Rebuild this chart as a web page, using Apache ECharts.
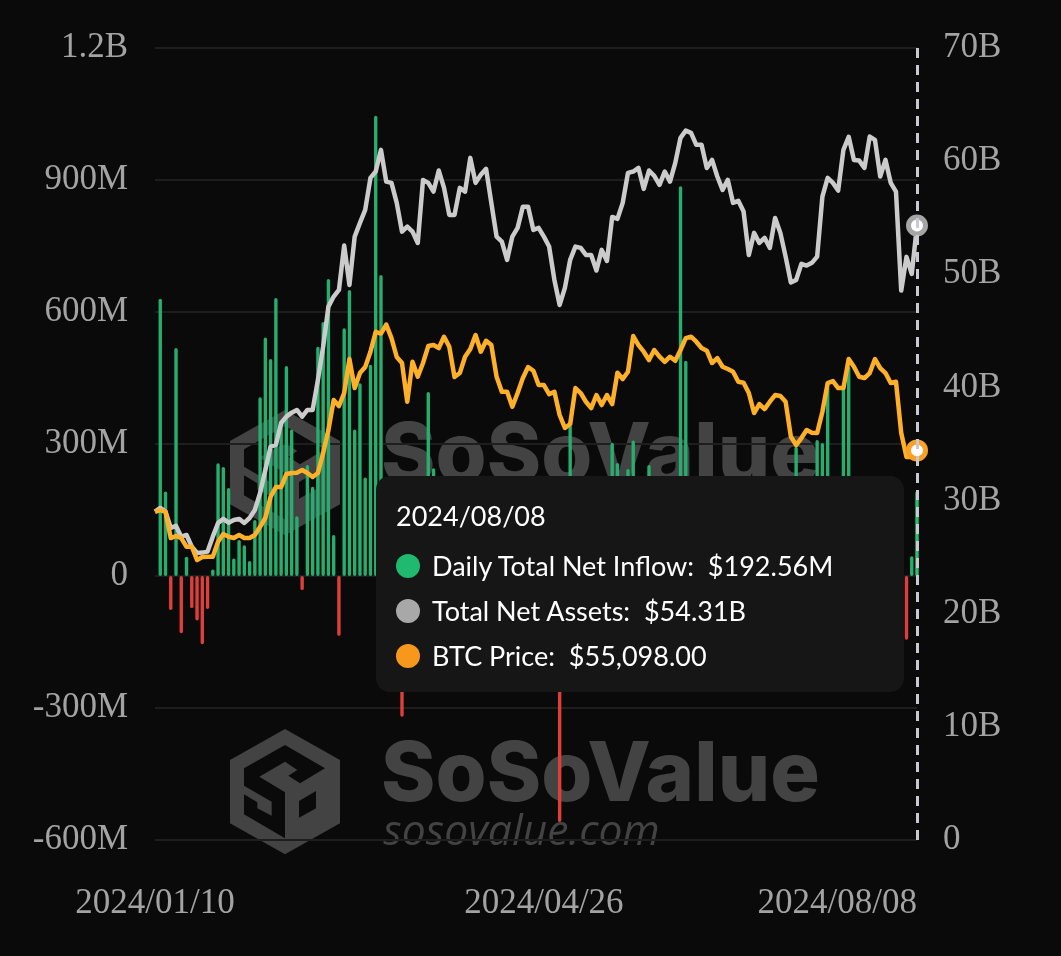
<!DOCTYPE html>
<html>
<head>
<meta charset="utf-8">
<style>
html,body{margin:0;padding:0;background:#0a0a0a;}
#main{width:1061px;height:956px;}
</style>
<script src="https://cdn.jsdelivr.net/npm/echarts@6/dist/echarts.min.js"></script>
</head>
<body>
<div id="main"></div>
<script>
const tradingDays = [
  ['01',[10,11,12,16,17,18,19,22,23,24,25,26,29,30,31]],
  ['02',[1,2,5,6,7,8,9,12,13,14,15,16,20,21,22,23,26,27,28,29]],
  ['03',[1,4,5,6,7,8,11,12,13,14,15,18,19,20,21,22,25,26,27,28]],
  ['04',[1,2,3,4,5,8,9,10,11,12,15,16,17,18,19,22,23,24,25,26,29,30]],
  ['05',[1,2,3,6,7,8,9,10,13,14,15,16,17,20,21,22,23,24,28,29,30,31]],
  ['06',[3,4,5,6,7,10,11,12,13,14,17,18,20,21,24,25,26,27,28]],
  ['07',[1,2,3,5,8,9,10,11,12,15,16,17,18,19,22,23,24,25,26,29,30,31]],
  ['08',[1,2,5,6,7,8]]
];
const categories = tradingDays.flatMap(m => m[1].map(d => `2024/${m[0]}/${String(d).padStart(2,'0')}`));
const shownDates = ['2024/01/10','2024/04/26','2024/08/08'];

// millions of USD
const netInflow = [0,630,192,-77,518,-130,44,-73,-101,-155,-75,15,256,248,200,40,82,70,34,127,
  406,542,493,632,345,477,333,136,-32,252,203,521,577,675,93,-136,563,650,333,438,
  224,480,1046,684,132,-139,-154,-320,-261,-94,-84,15,418,245,179,-86,40,113,-95,-124,
  -223,-37,-18,59,204,-37,-58,-94,-166,-57,60,31,-5,-218,-120,60,-162,-559,-38,343,
  217,-15,-11,-84,-30,95,66,303,257,222,243,308,88,-5,252,28,-105,48,-65,15,
  886,489,100,14,-64,-200,100,-226,-105,-140,-152,-226,-105,-175,-174,31,73,-25,129,27,
  -13,-65,294,143,-146,143,309,302,430,186,216,430,476,-78,31,66,124,200,-158,-81,
  -18,-80,-237,-145,45,192.56];
// billions of USD
const totalNetAssets = [29.02,29.35,29.02,27.58,27.76,26.81,26.96,25.93,25.37,25.40,25.49,26.81,28.02,28.38,28.05,28.29,28.38,28.02,28.46,29.17,
  30.67,32.71,34.77,34.92,36.86,37.42,37.77,38.01,37.42,38.01,38.01,40.66,43.61,47.14,48.03,48.62,52.54,49.06,53.33,54.54,
  55.69,58.52,59.08,61.00,58.19,58.08,56.31,53.77,54.22,53.77,52.77,58.34,58.08,57.31,59.17,57.64,55.25,55.25,57.64,57.31,
  60.29,58.08,58.79,59.32,56.31,53.33,52.89,51.27,53.33,54.10,55.98,55.96,53.92,54.10,53.33,52.45,49.50,47.29,48.80,51.27,
  52.45,52.33,51.71,51.71,50.33,52.16,51.18,55.07,54.90,56.31,58.96,59.08,59.40,57.55,59.17,58.70,57.90,59.08,58.19,59.85,
  62.06,62.70,62.50,61.44,61.44,59.40,60.11,58.64,57.46,58.34,56.31,56.49,55.54,51.71,53.66,52.77,53.22,52.33,54.98,53.66,
  51.56,49.27,49.50,50.92,50.77,51.01,51.56,56.87,58.52,58.08,57.40,61.00,62.15,60.11,60.05,59.40,62.17,61.88,58.64,60.11,
  58.08,57.31,48.56,51.54,50.03,54.31];
const btcPrice = [46420,46660,46420,42700,42990,42700,41470,41470,39590,40020,40060,40060,42180,43270,42890,42700,43130,42700,42700,43130,
  44300,45530,48540,49910,49910,51750,51890,51940,52320,51890,51330,51890,54720,57970,62220,61370,63210,68010,63910,66030,
  66880,69050,71870,71620,72890,70980,68300,67450,61980,67630,65510,67450,69850,69990,69570,71170,69750,65470,66030,68340,
  69430,71410,69050,70600,69990,65510,63390,63390,61270,63210,65330,66880,66360,64340,64340,63060,63390,60100,58260,58820,
  63910,63210,61980,61080,62920,61510,62920,61650,66080,65190,66220,71270,69990,69050,67870,69290,68340,67630,68340,67770,
  69290,70980,71170,70460,69570,69190,67450,68150,66920,66600,66220,64800,64660,63210,60380,61650,60940,61980,62920,62780,
  61980,57030,55850,56840,57970,57590,57550,60560,64620,64900,63910,63910,68010,66920,65510,65330,66030,68010,66740,66030,
  64620,64800,57550,54160,54160,55098];

const inflowTicks = ['-600M','-300M','0','300M','600M','900M','1.2B'];
const assetTicks = ['0','10B','20B','30B','40B','50B','60B','70B'];

const labelColor = '#a3a3a3';
const labelFont = '"Liberation Serif"';
const green = '#27ad6d', red = '#de3f3a', grey = '#b9b9b9', orange = '#f9a026';
const markColor = '#434343', bg = '#0a0a0a';

// watermark, coords are in 3x units so the group is scaled down
const watermark = (x, y) => ({
  type: 'group', x: x, y: y, z: -1, silent: true, scaleX: 1/3, scaleY: 1/3,
  children: [
    {type:'polygon', z:-1, shape:{points:[[195,42],[360,135],[360,325],[195,418],[30,325],[30,135]]}, style:{fill:markColor}},
    {type:'polygon', z:-1, zlevel:0, shape:{points:[[72,160],[195,90],[315,160],[240,205],[205,182],[232,165],[195,140],[118,185],[195,232],[195,370],[72,298],[72,238],[112,262],[112,280],[155,302],[155,260],[72,212]]}, style:{fill:bg}},
    {type:'polygon', z:-1, shape:{points:[[237,258],[288,228],[288,280],[237,308]]}, style:{fill:bg}},
    {type:'text', z:-1, x:483, y:60, style:{text:'SoSoValue', fill:markColor, font:'800 248px Inter', textBaseline:'top'}, scaleX:1},
    {type:'text', z:-1, x:490, y:290, style:{text:'sosovalue.com', fill:markColor, font:'italic 400 128px "Open Sans"', textBaseline:'top'}}
  ]
});

const tooltipFormatter = (params) => {
  const i = params[0].dataIndex;
  const row = (color, name, val) => `<div style="display:flex;align-items:center;height:45px;">
    <span style="display:inline-block;width:24px;height:24px;border-radius:50%;background:${color};margin-right:12px;"></span>
    <span>${name}:&nbsp;&nbsp;${val}</span></div>`;
  return `<div style="height:36px;line-height:36px;margin-bottom:9px;">${categories[i]}</div>`
    + row('#1fb96f','Daily Total Net Inflow',`$${netInflow[i]}M`)
    + row('#a8a8a8','Total Net Assets',`$${totalNetAssets[i]}B`)
    + row('#f7981d','BTC Price',`$${btcPrice[i].toLocaleString('en-US',{minimumFractionDigits:2})}`);
};

const chart = echarts.init(document.getElementById('main'));
chart.setOption({
  animation: false,
  backgroundColor: bg,
  grid: {left: 155, right: 144, top: 48, bottom: 116},
  graphic: [watermark(220, 396), watermark(220, 715)],
  tooltip: {
    trigger: 'axis',
    alwaysShowContent: true,
    position: [376, 476],
    padding: [22, 20],
    backgroundColor: '#161616',
    borderWidth: 0,
    extraCssText: 'width:528px;height:216px;box-sizing:border-box;border-radius:14px;box-shadow:none;',
    textStyle: {color: '#fff', fontFamily: 'Lato', fontSize: 27},
    axisPointer: {type: 'line', z: 5, lineStyle: {color: '#c9c9d2', width: 3, type: [10, 7]}},
    formatter: tooltipFormatter
  },
  xAxis: {
    type: 'category',
    data: categories,
    boundaryGap: false,
    axisLine: {show: false},
    axisTick: {show: false},
    axisLabel: {
      interval: (i, v) => shownDates.includes(v),
      alignMaxLabel: 'right',
      hideOverlap: false,
      margin: 46,
      color: labelColor,
      fontFamily: labelFont,
      fontSize: 35
    }
  },
  yAxis: [
    {
      type: 'value', min: -600, max: 1200, interval: 300,
      axisLine: {show: false}, axisTick: {show: false},
      splitLine: {lineStyle: {color: '#1e1e1e', width: 2}},
      axisLabel: {
        formatter: v => inflowTicks[(v + 600) / 300],
        margin: 27, color: labelColor, fontFamily: labelFont, fontSize: 35
      }
    },
    {
      type: 'value', min: 0, max: 70, interval: 10, position: 'right',
      axisLine: {show: false}, axisTick: {show: false}, splitLine: {show: false},
      axisLabel: {
        formatter: v => assetTicks[v / 10],
        margin: 26, color: labelColor, fontFamily: labelFont, fontSize: 35
      }
    },
    {type: 'value', min: 0, max: 112000, show: false}
  ],
  series: [
    {
      name: 'Daily Total Net Inflow', type: 'bar', yAxisIndex: 0, data: netInflow,
      barWidth: 3.4,
      itemStyle: {borderRadius: 2, color: p => (p.value >= 0 ? green : red)}
    },
    {
      name: 'Total Net Assets', type: 'line', yAxisIndex: 1, data: totalNetAssets,
      showSymbol: false, symbol: 'circle', symbolSize: 17,
      lineStyle: {color: grey, width: 4.5, join: 'round'},
      itemStyle: {color: '#fff', borderColor: '#a5a5a5', borderWidth: 5},
      emphasis: {scale: false, lineStyle: {width: 4.5}}
    },
    {
      name: 'BTC Price', type: 'line', yAxisIndex: 2, data: btcPrice,
      showSymbol: false, symbol: 'circle', symbolSize: 17,
      lineStyle: {color: orange, width: 4.5, join: 'round'},
      itemStyle: {color: '#fff', borderColor: orange, borderWidth: 5},
      emphasis: {scale: false, lineStyle: {width: 4.5}}
    }
  ]
});
chart.dispatchAction({type: 'showTip', seriesIndex: 0, dataIndex: categories.length - 1});
</script>
</body>
</html>
